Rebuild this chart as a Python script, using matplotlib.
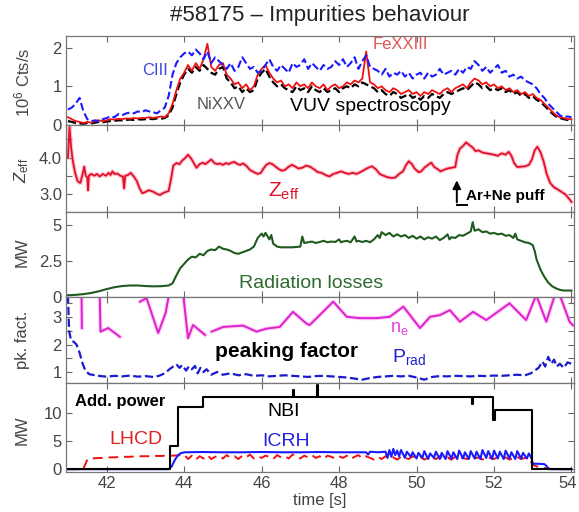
import numpy as np
import matplotlib
matplotlib.use('Agg')
import matplotlib.pyplot as plt
import matplotlib.transforms as mtransforms

plt.rcParams['font.family'] = ['Liberation Sans', 'DejaVu Sans']
plt.rcParams['mathtext.fontset'] = 'custom'
plt.rcParams['mathtext.rm'] = 'Liberation Sans'
plt.rcParams['mathtext.it'] = 'Liberation Sans:italic'
plt.rcParams['mathtext.bf'] = 'Liberation Sans:bold'

# ---- VUV spectroscopy (10^6 Cts/s), sampled every 0.1 s from 41 to 54 s
t_vuv = np.round(np.arange(41.0, 54.01, 0.1), 1)
ciii = [0.40, 0.45, 0.55, 0.70, 0.35, 0.15, 0.10, 0.12, 0.10, 0.15,
        0.18, 0.22, 0.20, 0.28, 0.25, 0.30, 0.32, 0.30, 0.35, 0.33,
        0.38, 0.35, 0.33, 0.30, 0.38, 0.45, 0.75, 1.30, 1.60, 1.75,
        1.85, 1.90, 1.80, 1.95, 1.85, 1.70, 1.90, 1.60, 1.75, 1.65,
        1.55, 1.45, 1.60, 1.40, 1.50, 1.75, 1.60, 1.45, 1.50, 1.35,
        1.40, 1.55, 1.70, 1.50, 1.40, 1.55, 1.45, 1.35, 1.60, 1.50,
        1.55, 1.70, 1.45, 1.60, 1.50, 1.40, 1.55, 1.45, 1.50, 1.65,
        1.55, 1.70, 1.50, 1.60, 1.75, 1.45, 1.65, 1.80, 1.50, 1.45,
        1.40, 1.30, 1.45, 1.25, 1.35, 1.30, 1.40, 1.25, 1.35, 1.20,
        1.30, 1.35, 1.20, 1.35, 1.25, 1.30, 1.45, 1.30, 1.35, 1.40,
        1.30, 1.45, 1.35, 1.50, 1.45, 1.65, 1.55, 1.40, 1.50, 1.35,
        1.45, 1.55, 1.35, 1.40, 1.25, 1.30, 1.20, 1.25, 1.15, 1.10,
        1.05, 0.95, 0.80, 0.70, 0.55, 0.45, 0.35, 0.25, 0.20, 0.22,
        0.20]
fexxiii = [0.20, 0.15, 0.10, 0.08, 0.05, 0.08, 0.06, 0.10, 0.12, 0.10,
           0.12, 0.15, 0.14, 0.16, 0.15, 0.17, 0.16, 0.18, 0.17, 0.18,
           0.18, 0.20, 0.18, 0.20, 0.22, 0.20, 0.30, 0.55, 0.90, 1.20,
           1.35, 1.55, 1.40, 1.60, 1.45, 1.70, 2.10, 1.50, 1.40, 1.55,
           1.60, 1.30, 1.20, 1.05, 1.10, 0.95, 1.05, 0.90, 1.00, 1.30,
           1.45, 1.55, 1.35, 1.20, 1.10, 1.15, 1.00, 1.05, 0.95, 1.10,
           1.00, 1.05, 0.95, 1.10, 1.00, 0.95, 1.05, 0.90, 1.00, 1.05,
           0.95, 1.00, 1.10, 1.05, 1.15, 1.10, 1.20, 1.90, 1.10, 1.05,
           0.95, 1.00, 0.90, 0.85, 0.95, 0.90, 0.80, 0.85, 0.90, 0.80,
           0.85, 0.75, 0.85, 0.80, 0.90, 0.85, 0.80, 0.90, 0.95, 0.85,
           0.95, 1.00, 1.05, 0.95, 1.10, 1.20, 1.15, 1.05, 1.10, 1.00,
           1.05, 0.95, 1.00, 0.90, 0.95, 0.85, 0.90, 0.80, 0.85, 0.75,
           0.80, 0.70, 0.65, 0.55, 0.45, 0.35, 0.25, 0.20, 0.18, 0.15,
           0.15]
nixxv = [0.10, 0.08, 0.05, 0.04, 0.03, 0.05, 0.04, 0.06, 0.08, 0.07,
         0.09, 0.10, 0.11, 0.12, 0.12, 0.13, 0.14, 0.13, 0.15, 0.14,
         0.15, 0.16, 0.15, 0.17, 0.16, 0.18, 0.25, 0.45, 0.80, 1.10,
         1.30, 1.45, 1.35, 1.50, 1.40, 1.55, 1.45, 1.35, 1.30, 1.45,
         1.50, 1.20, 1.10, 0.95, 1.00, 0.85, 0.95, 0.85, 0.90, 1.20,
         1.35, 1.45, 1.25, 1.10, 1.00, 1.05, 0.95, 0.90, 0.85, 1.00,
         0.90, 0.95, 0.85, 1.00, 0.90, 0.85, 0.95, 0.85, 0.90, 0.95,
         0.85, 0.95, 1.00, 0.95, 1.05, 1.00, 1.10, 1.05, 1.00, 0.95,
         0.85, 0.90, 0.80, 0.75, 0.85, 0.80, 0.70, 0.75, 0.80, 0.70,
         0.75, 0.65, 0.75, 0.70, 0.80, 0.75, 0.70, 0.80, 0.85, 0.80,
         0.85, 0.90, 0.95, 0.90, 1.00, 1.10, 1.05, 0.95, 1.00, 0.90,
         0.95, 0.90, 0.95, 0.85, 0.90, 0.80, 0.85, 0.75, 0.80, 0.70,
         0.75, 0.65, 0.60, 0.50, 0.40, 0.30, 0.22, 0.18, 0.15, 0.13,
         0.13]

# ---- Zeff
zeff_t = [41.00, 41.04, 41.08, 41.12, 41.18, 41.25, 41.32, 41.38, 41.42, 41.46,
          41.50, 41.52, 41.54, 41.60, 41.68, 41.75, 41.82, 41.90, 41.98, 42.05,
          42.10, 42.15, 42.20, 42.28, 42.35, 42.42, 42.45, 42.48, 42.55, 42.62,
          42.70, 42.78, 42.85, 42.92, 43.00, 43.08, 43.15, 43.22, 43.30, 43.38,
          43.45, 43.52, 43.60, 43.66, 43.72, 43.80, 43.88, 43.95, 44.02, 44.10,
          44.18, 44.25, 44.32, 44.40, 44.48, 44.55, 44.62, 44.70, 44.78, 44.85,
          44.92, 45.00, 45.08, 45.15, 45.22, 45.30, 45.38, 45.45, 45.52, 45.60,
          45.70, 45.80, 45.90, 45.98, 46.05, 46.12, 46.20, 46.28, 46.36, 46.45,
          46.52, 46.60, 46.70, 46.78, 46.86, 46.95, 47.05, 47.15, 47.25, 47.35,
          47.45, 47.55, 47.65, 47.75, 47.85, 47.95, 48.05, 48.15, 48.25, 48.35,
          48.45, 48.55, 48.65, 48.75, 48.85, 48.95, 49.05, 49.15, 49.25, 49.35,
          49.45, 49.55, 49.65, 49.72, 49.80, 49.88, 49.95, 50.05, 50.12, 50.20,
          50.30, 50.38, 50.46, 50.55, 50.62, 50.70, 50.80, 50.90, 51.00, 51.05,
          51.12, 51.20, 51.28, 51.36, 51.45, 51.52, 51.60, 51.70, 51.80, 51.90,
          52.00, 52.10, 52.20, 52.30, 52.38, 52.45, 52.52, 52.60, 52.70, 52.80,
          52.90, 52.98, 53.05, 53.12, 53.20, 53.28, 53.36, 53.45, 53.55, 53.65,
          53.75, 53.85, 53.95, 54.00]
zeff = [4.00, 4.85, 4.30, 3.95, 3.60, 3.35, 3.30, 3.55, 3.75, 3.50,
        3.45, 3.10, 3.50, 3.55, 3.50, 3.55, 3.48, 3.55, 3.50, 3.58,
        3.52, 3.62, 3.55, 3.56, 3.50, 3.48, 3.15, 3.50, 3.52, 3.58,
        3.48, 3.35, 3.15, 3.02, 3.05, 3.10, 3.08, 3.05, 3.00, 2.97,
        3.02, 3.05, 3.08, 3.40, 3.78, 3.85, 3.82, 3.92, 3.98, 4.08,
        3.98, 3.85, 3.72, 3.82, 3.86, 3.82, 3.88, 3.95, 3.85, 3.82,
        3.84, 3.80, 3.85, 3.82, 3.86, 3.88, 3.82, 3.80, 3.84, 3.78,
        3.66, 3.60, 3.55, 3.58, 3.70, 3.80, 3.85, 3.82, 3.75, 3.68,
        3.64, 3.66, 3.75, 3.80, 3.76, 3.70, 3.72, 3.78, 3.75, 3.68,
        3.60, 3.58, 3.52, 3.48, 3.55, 3.58, 3.62, 3.58, 3.55, 3.58,
        3.55, 3.60, 3.66, 3.72, 3.76, 3.68, 3.55, 3.50, 3.46, 3.44,
        3.45, 3.55, 3.62, 3.78, 3.90, 3.82, 3.70, 3.60, 3.62, 3.72,
        3.80, 3.86, 3.74, 3.68, 3.62, 3.66, 3.70, 3.72, 3.74, 4.05,
        4.25, 4.32, 4.42, 4.35, 4.28, 4.18, 4.20, 4.14, 4.12, 4.10,
        4.08, 4.05, 4.12, 4.08, 4.16, 4.05, 3.85, 3.74, 3.75, 3.76,
        3.80, 3.95, 4.20, 4.30, 4.15, 3.90, 3.55, 3.30, 3.18, 3.12,
        3.05, 2.98, 2.85, 2.78]
puff_t = 51.04

# ---- radiation losses (MW)
prad_t = [41.0, 41.2, 41.4, 41.6, 41.8, 42.0, 42.2, 42.4, 42.6, 42.8,
          43.0, 43.2, 43.4, 43.6, 43.7, 43.8, 43.9, 44.0, 44.1, 44.2,
          44.3, 44.4, 44.5, 44.6, 44.7, 44.8, 44.9, 45.0, 45.1, 45.2,
          45.3, 45.4, 45.5, 45.6, 45.7, 45.8, 45.9, 46.0, 46.05, 46.1,
          46.2, 46.25, 46.3, 46.4, 46.5, 46.6, 46.8, 47.0, 47.05, 47.1,
          47.2, 47.3, 47.4, 47.5, 47.6, 47.7, 47.8, 47.9, 48.0, 48.05,
          48.1, 48.2, 48.3, 48.4, 48.45, 48.5, 48.6, 48.7, 48.8, 48.9,
          49.0, 49.05, 49.1, 49.2, 49.3, 49.4, 49.5, 49.6, 49.7, 49.8,
          49.9, 50.0, 50.1, 50.2, 50.3, 50.4, 50.5, 50.6, 50.7, 50.8,
          50.85, 50.9, 51.0, 51.1, 51.2, 51.3, 51.4, 51.45, 51.5, 51.6,
          51.7, 51.8, 51.9, 52.0, 52.1, 52.2, 52.3, 52.4, 52.5, 52.55,
          52.6, 52.7, 52.8, 52.9, 53.0, 53.05, 53.1, 53.2, 53.3, 53.4,
          53.5, 53.6, 53.7, 53.8, 54.0]
prad = [0.12, 0.15, 0.20, 0.28, 0.40, 0.55, 0.68, 0.76, 0.80, 0.80,
        0.76, 0.74, 0.75, 0.80, 0.95, 1.50, 2.00, 2.30, 2.60, 2.80,
        2.75, 3.00, 2.90, 3.20, 3.30, 3.25, 3.50, 3.35, 3.30, 3.20,
        3.05, 3.00, 3.10, 3.20, 3.30, 3.50, 4.10, 4.40, 4.20, 4.45,
        4.00, 4.30, 3.70, 3.50, 3.45, 3.45, 3.45, 3.50, 4.20, 3.75,
        3.80, 3.85, 3.75, 3.82, 3.90, 3.80, 3.85, 3.82, 4.00, 3.80,
        3.85, 3.90, 3.80, 4.20, 3.85, 3.90, 3.82, 3.90, 3.80, 4.00,
        4.30, 4.10, 4.50, 4.30, 4.45, 4.20, 4.35, 4.20, 4.30, 4.10,
        4.25, 4.05, 4.20, 4.00, 4.15, 4.05, 4.20, 3.95, 4.10, 4.35,
        4.00, 4.15, 4.10, 4.30, 4.25, 4.40, 4.55, 5.20, 4.60, 4.70,
        4.50, 4.55, 4.40, 4.45, 4.35, 4.40, 4.25, 4.30, 4.10, 4.40,
        4.00, 3.90, 3.80, 3.75, 3.60, 3.20, 2.60, 1.90, 1.40, 1.00,
        0.75, 0.60, 0.50, 0.45, 0.45]

# ---- peaking factors (NaN = gaps in the ne trace)
ne_t = [41.35, 41.36, np.nan,
        41.82, 41.84, 42.04, 42.34, np.nan,
        42.86, 43.03, 43.33, 43.52, 43.62, np.nan,
        43.97, 44.10, 44.23, 44.54, np.nan,
        44.71, 45.01, 45.52, 45.87, 46.13, 46.47, 46.81, 47.16, 47.24, 47.85,
        48.20, 48.54, 48.97, 49.31, 49.66, 50.09, 50.35, 50.60, 50.86, 51.12,
        51.46, 51.80, 52.40, 52.83, 53.09, 53.35, 53.57, 53.70, 53.95, 54.04]
ne_pk = [3.90, 2.60, np.nan,
         3.90, 2.47, 2.60, 2.28, np.nan,
         3.56, 3.69, 2.42, 3.14, 3.90, np.nan,
         3.90, 2.23, 2.71, 2.35, np.nan,
         2.47, 2.64, 2.69, 2.47, 2.58, 2.64, 3.19, 2.76, 2.71, 3.56,
         3.01, 2.96, 2.96, 3.01, 3.38, 2.60, 3.01, 3.07, 3.25, 2.83,
         3.19, 2.89, 3.50, 2.89, 3.80, 2.83, 3.80, 3.80, 2.83, 2.70]
prad_pk_t = [41.00, 41.03, 41.08, 41.15, 41.22, 41.30, 41.38, 41.45, 41.55, 41.70,
             41.85, 42.00, 42.20, 42.40, 42.60, 42.80, 43.00, 43.20, 43.35, 43.50,
             43.62, 43.72, 43.80, 43.88, 43.95, 44.05, 44.12, 44.20, 44.28, 44.35,
             44.42, 44.50, 44.58, 44.70, 44.85, 45.00, 45.20, 45.40, 45.60, 45.80,
             46.00, 46.20, 46.40, 46.60, 46.80, 47.00, 47.20, 47.40, 47.60, 47.80,
             48.00, 48.20, 48.40, 48.60, 48.80, 49.00, 49.20, 49.40, 49.60, 49.80,
             50.00, 50.20, 50.40, 50.60, 50.80, 51.00, 51.20, 51.40, 51.60, 51.80,
             52.00, 52.20, 52.40, 52.60, 52.80, 52.95, 53.05, 53.15, 53.25, 53.32,
             53.40, 53.48, 53.55, 53.62, 53.70, 53.80, 53.90, 54.00]
prad_pk = [3.80, 2.50, 2.15, 2.10, 2.00, 1.70, 1.30, 1.05, 0.92, 0.88,
           0.85, 0.83, 0.86, 0.84, 0.87, 0.83, 0.85, 0.82, 0.86, 0.95,
           1.10, 1.20, 1.28, 1.15, 1.25, 1.05, 1.20, 1.10, 1.22, 0.95,
           1.15, 1.00, 1.10, 0.90, 1.00, 0.90, 0.95, 0.88, 0.92, 0.86,
           0.88, 0.84, 0.86, 0.88, 0.86, 0.84, 0.82, 0.85, 0.86, 0.84,
           0.82, 0.80, 0.76, 0.72, 0.78, 0.82, 0.84, 0.86, 0.84, 0.86,
           0.80, 0.72, 0.82, 0.85, 0.84, 0.86, 0.85, 0.84, 0.86, 0.85,
           0.87, 0.86, 0.88, 0.90, 0.88, 0.95, 1.05, 1.15, 1.38, 1.20,
           1.55, 1.30, 1.45, 1.20, 1.30, 1.15, 1.35, 1.30]

# ---- additional heating power (MW)
nbi_t = [41.0, 43.63, 43.63, 43.85, 43.85, 44.49, 44.49, 46.80, 46.80, 46.83,
         46.83, 47.42, 47.42, 47.45, 47.45, 51.42, 51.42, 51.45, 51.45, 51.98,
         51.98, 52.02, 52.02, 52.97, 52.97, 54.0]
nbi = [0, 0, 4.1, 4.1, 11.1, 11.1, 12.9, 12.9, 14.0, 14.0,
       12.9, 12.9, 15.0, 15.0, 12.9, 12.9, 11.5, 11.5, 12.9, 12.9,
       8.8, 8.8, 10.5, 10.5, 0, 0]
lhcd = [0, 0, 0, 0, 0.1, 1.7, 1.9, 1.95, 2.0, 2.0,
        2.05, 2.1, 2.1, 2.15, 2.2, 2.2, 2.2, 2.25, 2.25, 2.3,
        2.3, 2.3, 2.35, 2.35, 2.35, 2.4, 2.4, 2.4, 2.45, 2.5,
        2.6, 1.8, 2.4, 1.7, 2.3, 1.9, 2.5, 1.8, 2.2, 2.4,
        1.9, 2.5, 2.0, 2.3, 1.8, 2.4, 2.1, 2.6, 1.9, 2.3,
        2.0, 2.4, 2.2, 1.8, 2.5, 2.1, 2.3, 1.9, 2.6, 2.2,
        1.9, 2.4, 2.1, 2.5, 2.0, 2.3, 1.8, 2.4, 2.2, 1.9,
        2.3, 2.0, 2.4, 1.8, 2.2, 2.5, 1.9, 2.3, 2.0, 1.7,
        2.2, 1.8, 2.3, 1.9, 2.1, 1.7, 2.2, 2.0, 1.8, 2.3,
        1.9, 2.2, 1.7, 2.1, 2.0, 1.8, 2.3, 1.9, 2.1, 1.7,
        2.2, 1.9, 2.0, 1.8, 2.3, 1.9, 2.1, 1.7, 2.2, 2.0,
        1.8, 2.2, 1.9, 2.1, 1.7, 2.0, 2.2, 1.8, 2.0, 1.9,
        0.8, 0.5, 0.3, 0.2, 0.1, 0.05, 0, 0, 0, 0,
        0]
icrh_t = [41.0, 43.60, 43.68, 43.75, 43.82, 43.90, 44.00, 44.50, 45.00, 45.50,
          46.00, 46.50, 47.00, 47.50, 48.00, 48.50, 48.70, 48.75, 48.80, 49.00,
          49.20, 49.25, 49.30, 49.35, 49.40, 49.45, 49.50, 49.55, 49.60, 49.70,
          49.75, 49.85, 49.90, 50.00, 50.05, 50.15, 50.20, 50.30, 50.35, 50.45,
          50.50, 50.60, 50.65, 50.75, 50.80, 50.90, 50.95, 51.05, 51.10, 51.20,
          51.25, 51.35, 51.40, 51.50, 51.55, 51.65, 51.70, 51.80, 51.85, 51.95,
          52.00, 52.10, 52.15, 52.25, 52.30, 52.40, 52.45, 52.55, 52.60, 52.70,
          52.75, 52.85, 52.90, 52.97, 53.00, 53.30, 53.35, 53.42, 54.0]
icrh = [0, 0, 0.5, 1.5, 2.3, 2.8, 3.0, 3.05, 3.0, 3.0,
        3.05, 3.0, 3.0, 3.05, 3.0, 3.0, 3.0, 2.6, 3.1, 3.0,
        3.1, 2.0, 3.4, 2.2, 3.6, 2.5, 3.3, 2.3, 3.4, 2.0,
        3.1, 2.2, 3.0, 1.9, 2.9, 2.0, 3.2, 1.8, 2.8, 2.0,
        3.1, 1.8, 2.9, 1.8, 3.2, 1.9, 3.0, 1.8, 3.3, 1.9,
        3.0, 1.8, 3.2, 1.9, 3.1, 1.8, 3.4, 2.0, 3.2, 1.8,
        3.3, 1.9, 3.1, 1.8, 3.3, 1.9, 3.0, 1.8, 3.2, 1.9,
        2.9, 1.9, 2.8, 1.9, 1.0, 0.9, 0.6, 0, 0]

xticks = [42, 44, 46, 48, 50, 52, 54]

fig = plt.figure(figsize=(5.79, 5.12), dpi=100)
L, W = 0.114, 0.877
ax1 = fig.add_axes([L, 0.7559, W, 0.1738])
ax2 = fig.add_axes([L, 0.5859, W, 0.1700])
ax3 = fig.add_axes([L, 0.4199, W, 0.1660])
ax4 = fig.add_axes([L, 0.2520, W, 0.1679])
ax5 = fig.add_axes([L, 0.0781, W, 0.1739])


def style(ax, ylim, yticks, ylabels, bottom=False):
    ax.set_xlim(40.95, 54.06)
    ax.set_ylim(*ylim)
    ax.set_xticks(xticks)
    ax.set_yticks(yticks)
    ax.set_yticklabels(ylabels)
    ax.tick_params(direction='in', top=True, right=True, length=4, width=0.8,
                   color='#666666', labelcolor='#444444', labelsize=12,
                   labelbottom=bottom, pad=3)
    for s in ax.spines.values():
        s.set_color('#777777')
        s.set_linewidth(0.9)


# panel 1 - VUV
ax1.plot(t_vuv, nixxv, color='black', ls='--', lw=1.6)
ax1.plot(t_vuv, fexxiii, color='#ee1111', lw=1.3)
ax1.plot(t_vuv, ciii, color='#1a1aff', ls='--', lw=1.5)
style(ax1, (0, 2.3), [0, 1, 2], ['0', '1', '2'])
ax1.text(43.25, 1.40, 'CIII', color='#3a48e0', fontsize=12, ha='center', va='center')
ax1.text(49.57, 2.08, 'FeXXIII', color='#e05555', fontsize=12, ha='center', va='center')
ax1.text(44.95, 0.52, 'NiXXV', color='#555555', fontsize=12, ha='center', va='center')
ax1.text(48.82, 0.47, 'VUV spectroscopy', color='black', fontsize=14, ha='center', va='center')

# panel 2 - Zeff
ax2.plot(zeff_t, zeff, color='#ff8aa0', lw=3.0, alpha=0.5)
ax2.plot(zeff_t, zeff, color='#e0102a', lw=1.3)
style(ax2, (2.5, 4.9), [3.0, 3.5, 4.0, 4.5], ['3.0', '', '4.0', ''])
ax2.text(46.16, 2.92, r'Z$_{\mathregular{eff}}$', color='#e0102a', fontsize=15,
         ha='left', va='baseline')
ax2.annotate('', xy=(puff_t, 3.45), xytext=(puff_t, 2.69),
             arrowprops=dict(arrowstyle='-|>', color='black', lw=1.4, mutation_scale=12))
ax2.plot([puff_t, puff_t + 0.26], [2.69, 2.69], color='black', lw=1.4)
ax2.text(52.30, 2.94, 'Ar+Ne puff', fontsize=11, fontweight='bold', ha='center', va='center')

# panel 3 - radiation
ax3.plot(prad_t, prad, color='#1f5a1f', lw=1.5)
style(ax3, (0, 5.9), [0, 2.5, 5], ['0', '2.5', '5'])
ax3.text(47.27, 0.97, 'Radiation losses', color='#2d6a2d', fontsize=14, ha='center', va='center')

# panel 4 - peaking factors
ax4.plot(ne_t, ne_pk, color='#ff9cf0', lw=3.0, alpha=0.5)
ax4.plot(ne_t, ne_pk, color='#dd22cc', lw=1.4)
ax4.plot(prad_pk_t, prad_pk, color='#1a1ad0', ls='--', lw=1.6)
style(ax4, (0.6, 3.73), [1, 1.5, 2, 2.5, 3, 3.5], ['1', '', '2', '', '3', ''])
ax4.text(46.65, 1.73, 'peaking factor', fontsize=15, fontweight='bold', ha='center', va='center')
ax4.text(49.31, 2.45, r'n$_{\mathregular{e}}$', color='#e040e0', fontsize=13, ha='left', va='baseline')
ax4.text(49.36, 1.36, r'P$_{\mathregular{rad}}$', color='#2020d0', fontsize=14, ha='left', va='baseline')

# panel 5 - additional power
ax5.plot(t_vuv, lhcd, color='#ee1111', ls=(0, (5, 3)), lw=1.4)
ax5.plot(icrh_t, icrh, color='#1a1aff', lw=1.5)
ax5.plot(nbi_t, nbi, color='black', lw=1.5)
style(ax5, (-0.5, 15.3), [0, 5, 10], ['0', '5', '10'], bottom=True)
ax5.text(41.18, 12.1, 'Add. power', fontsize=12, fontweight='bold', ha='left', va='center')
ax5.text(46.57, 10.3, 'NBI', fontsize=14, ha='center', va='center')
ax5.text(42.75, 5.2, 'LHCD', color='#e02020', fontsize=14, ha='center', va='center')
ax5.text(46.64, 5.0, 'ICRH', color='#2222e0', fontsize=14, ha='center', va='center')
ax5.set_xlabel('time [s]', fontsize=12, color='#444444', labelpad=1)
# keep the last tick label ("54") inside the figure edge
last = ax5.get_xticklabels()[-1]
last.set_transform(last.get_transform() +
                   mtransforms.ScaledTranslation(-4 / 100, 0, fig.dpi_scale_trans))

# y labels and title
lab = dict(rotation=90, ha='center', va='center', fontsize=12, color='#444444')
fig.text(22 / 579, 1 - 82 / 512, r'10$^6$ Cts/s', **lab)
fig.text(22 / 579, 1 - 170 / 512, r'$Z_{\mathregular{eff}}$', **lab)
fig.text(22 / 579, 1 - 252 / 512, 'MW', **lab)
fig.text(22 / 579, 1 - 340 / 512, 'pk. fact.', **lab)
fig.text(22 / 579, 1 - 430 / 512, 'MW', **lab)
fig.text(320 / 579, 1 - 16 / 512, '#58175 \u2013 Impurities behaviour', fontsize=16,
         ha='center', va='center', color='#222222')

fig.savefig('out.png', dpi=100)
